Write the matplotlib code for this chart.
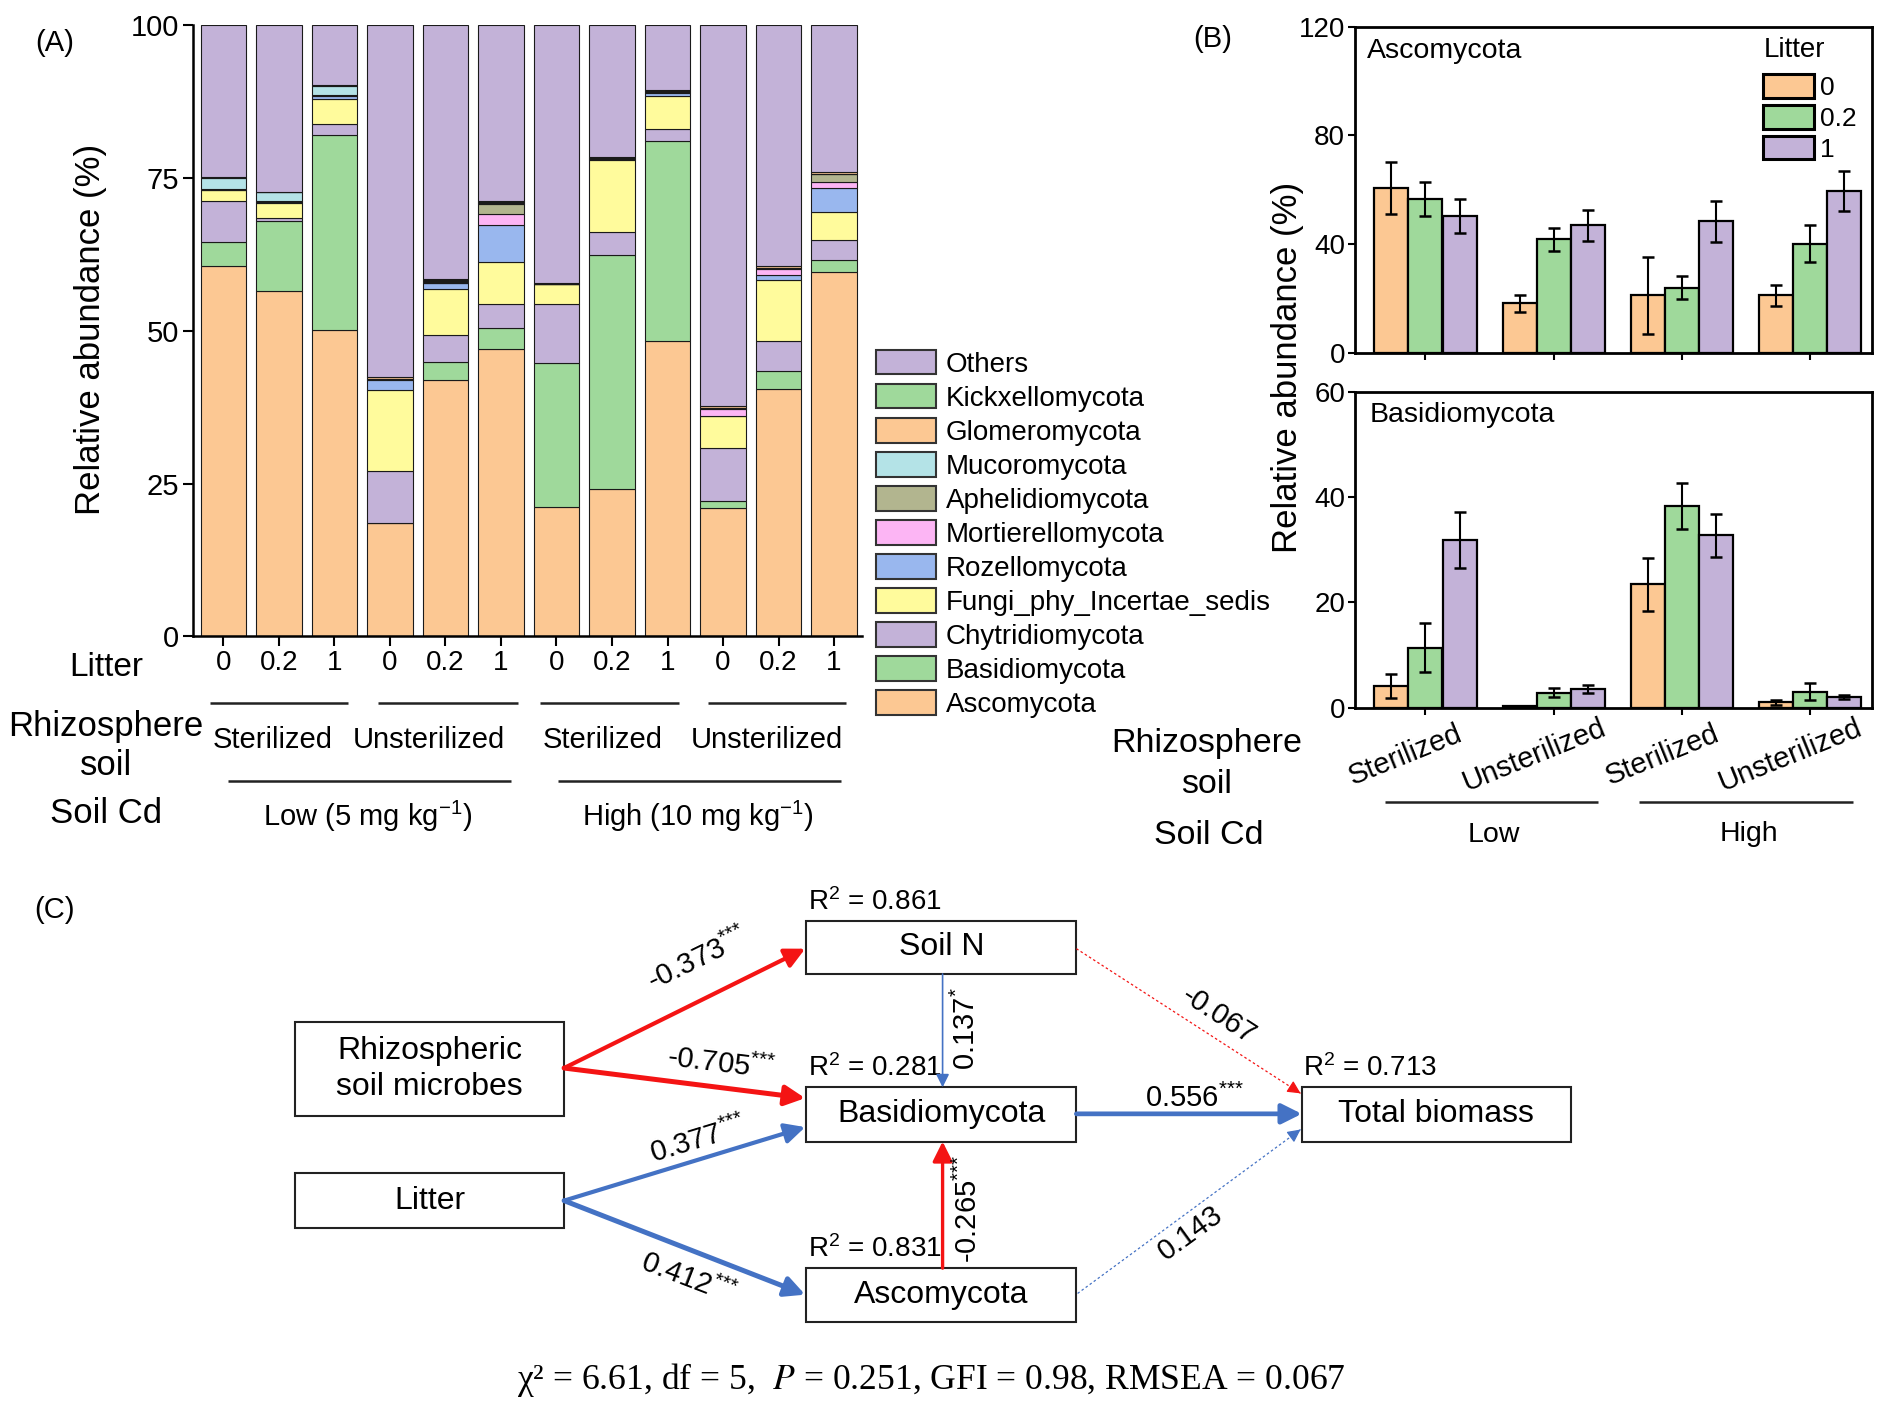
import numpy as np
import matplotlib
matplotlib.use('Agg')
import matplotlib.pyplot as plt
from matplotlib.patches import Rectangle, Patch

plt.rcParams['font.family'] = ['Liberation Sans', 'DejaVu Sans']
plt.rcParams['mathtext.fontset'] = 'custom'
plt.rcParams['mathtext.rm'] = 'Liberation Sans'
plt.rcParams['mathtext.it'] = 'Liberation Sans:italic'
plt.rcParams['mathtext.bf'] = 'Liberation Sans:bold'
plt.rcParams['axes.linewidth'] = 1.8

# ---------------- Panel A data (relative abundance, %) ----------------
litter_labels = ['0', '0.2', '1']
rhizo_groups = ['Sterilized', 'Unsterilized', 'Sterilized', 'Unsterilized']
cd_groups = ['Low (5 mg kg$^{-1}$)', 'High (10 mg kg$^{-1}$)']
taxa = ['Ascomycota', 'Basidiomycota', 'Chytridiomycota', 'Fungi_phy_Incertae_sedis',
        'Rozellomycota', 'Mortierellomycota', 'Aphelidiomycota', 'Mucoromycota',
        'Glomeromycota', 'Kickxellomycota', 'Others']
ascomycota = [60.7, 56.5, 50.2, 18.5, 41.9, 47.0, 21.2, 24.1, 48.4, 21.0, 40.5, 59.7]
basidiomycota = [3.9, 11.4, 31.8, 0.1, 3.0, 3.5, 23.6, 38.3, 32.7, 1.1, 3.0, 1.9]
chytridiomycota = [6.6, 0.6, 1.8, 8.4, 4.4, 3.9, 9.6, 3.7, 2.0, 8.8, 4.8, 3.2]
fungi_incertae = [1.8, 2.5, 4.1, 13.4, 7.5, 6.8, 3.2, 11.8, 5.4, 5.1, 10.0, 4.7]
rozellomycota = [0.1, 0.1, 0.6, 1.6, 1.0, 6.1, 0.05, 0.2, 0.5, 0.05, 0.8, 3.9]
mortierellomycota = [0.05, 0.05, 0.05, 0.05, 0.05, 1.8, 0.02, 0.02, 0.02, 1.2, 1.1, 0.9]
aphelidiomycota = [0.1, 0.1, 0.1, 0.1, 0.2, 1.7, 0.05, 0.05, 0.05, 0.1, 0.1, 1.3]
mucoromycota = [1.8, 1.4, 1.5, 0.05, 0.05, 0.05, 0.02, 0.2, 0.2, 0.02, 0.05, 0.05]
glomeromycota = [0.1, 0.1, 0.1, 0.2, 0.3, 0.3, 0.05, 0.05, 0.1, 0.3, 0.3, 0.3]
kickxellomycota = [0.05, 0.05, 0.05, 0.05, 0.1, 0.1, 0.02, 0.02, 0.02, 0.02, 0.05, 0.05]
others = [24.8, 27.2, 9.7, 57.55, 41.5, 28.75, 42.2, 21.6, 10.6, 62.3, 39.3, 24.0]

# ---------------- Panel B data (mean, SE) ----------------
b_groups = ['Sterilized', 'Unsterilized', 'Sterilized', 'Unsterilized']
b_cd = ['Low', 'High']
asco_l0 = [60.6, 18.3, 21.2, 21.2]
asco_l0_err = [9.6, 3.1, 14.0, 3.8]
asco_l02 = [56.6, 41.8, 24.0, 40.2]
asco_l02_err = [6.2, 4.1, 4.2, 6.8]
asco_l1 = [50.4, 47.0, 48.5, 59.7]
asco_l1_err = [6.2, 5.7, 7.5, 7.3]
basid_l0 = [4.1, 0.3, 23.4, 1.0]
basid_l0_err = [2.2, 0.0, 5.1, 0.5]
basid_l02 = [11.4, 2.85, 38.3, 3.0]
basid_l02_err = [4.6, 0.9, 4.4, 1.6]
basid_l1 = [31.8, 3.5, 32.7, 2.0]
basid_l1_err = [5.3, 0.7, 4.0, 0.4]

# ---------------- Panel C data (SEM) ----------------
sem_coef = [-0.373, -0.705, 0.377, 0.412, 0.137, -0.265, 0.556, -0.067, 0.143]
sem_sig = ['***', '***', '***', '***', '*', '***', '***', '', '']
sem_r2_nodes = ['Soil N', 'Basidiomycota', 'Ascomycota', 'Total biomass']
sem_r2 = [0.861, 0.281, 0.831, 0.713]
fit_text = 'χ² = 6.61, df = 5,  $P$ = 0.251, GFI = 0.98, RMSEA = 0.067'

# ---------------- styles ----------------
C_OR, C_GR, C_LI = '#FCC893', '#9FD99B', '#C3B2D8'
taxa_colors = [C_OR, C_GR, C_LI, '#FFFB9C', '#99B7EE', '#FCB5F4', '#B2B58F', '#B4E3E7',
               C_OR, C_GR, C_LI]
litter_colors = [C_OR, C_GR, C_LI]
RED, BLUE = '#F41414', '#4472C4'

W, H = 1568.0, 1173.0
fig = plt.figure(figsize=(18.9, 14.14), dpi=100)


def fr(x0, y0, x1, y1):
    return [x0 / W, 1 - y1 / H, (x1 - x0) / W, (y1 - y0) / H]


# ======================= Panel A =======================
axA = fig.add_axes(fr(160, 21, 715, 528))
xA = np.arange(len(ascomycota))
stack = [ascomycota, basidiomycota, chytridiomycota, fungi_incertae, rozellomycota,
         mortierellomycota, aphelidiomycota, mucoromycota, glomeromycota,
         kickxellomycota, others]
bottom = np.zeros(len(xA))
for name, vals, col in zip(taxa, stack, taxa_colors):
    axA.bar(xA, vals, bottom=bottom, width=0.82, color=col, edgecolor='#1a1a1a',
            linewidth=0.8, label=name)
    bottom += np.asarray(vals)
axA.set_xlim(-0.55, 11.5)
axA.set_ylim(0, 100)
axA.set_yticks([0, 25, 50, 75, 100])
axA.set_xticks(xA)
axA.set_xticklabels(litter_labels * 4)
axA.spines[['top', 'right']].set_visible(False)
axA.tick_params(axis='x', direction='out', length=7, width=1.5, labelsize=20, pad=3)
axA.tick_params(axis='y', direction='out', length=7, width=1.5, labelsize=21, pad=3)

handles = [Patch(facecolor=c, edgecolor='#333333', linewidth=1.5) for c in taxa_colors]
fig.legend(handles[::-1], taxa[::-1], loc='upper left',
           bbox_to_anchor=(727 / W, 1 - 290 / H), frameon=False, fontsize=20,
           handlelength=2.15, handleheight=1.0, labelspacing=0.22,
           handletextpad=0.35, borderpad=0, borderaxespad=0)

# ======================= Panel B =======================
axB1 = fig.add_axes(fr(1124, 22, 1553, 293))
axB2 = fig.add_axes(fr(1124, 325, 1553, 587))
gx = np.arange(4)
offs = [-0.266, 0.0, 0.266]
ekw = dict(ecolor='black', elinewidth=1.5, capsize=4, capthick=1.8)
for ax, means, errs in [(axB1, [asco_l0, asco_l02, asco_l1], [asco_l0_err, asco_l02_err, asco_l1_err]),
                        (axB2, [basid_l0, basid_l02, basid_l1], [basid_l0_err, basid_l02_err, basid_l1_err])]:
    for k in range(3):
        ax.bar(gx + offs[k], means[k], width=0.265, color=litter_colors[k],
               edgecolor='black', linewidth=1.6, yerr=errs[k], error_kw=ekw,
               label=litter_labels[k])
    ax.set_xlim(-0.55, 3.48)
    ax.set_xticks(gx)
    ax.set_xticklabels([])
    for s in ax.spines.values():
        s.set_linewidth(2.0)
    ax.tick_params(axis='x', direction='out', length=5, width=1.5)
    ax.tick_params(axis='y', direction='out', length=5, width=1.5, labelsize=20, pad=2)
axB1.set_ylim(0, 120)
axB1.set_yticks([0, 40, 80, 120])
axB2.set_ylim(0, 60)
axB2.set_yticks([0, 20, 40, 60])
legB = axB1.legend(handles=[Patch(facecolor=c, edgecolor='black', linewidth=2.2) for c in litter_colors],
                   labels=litter_labels, title='Litter', loc='upper left',
                   bbox_to_anchor=((1463 - 1124) / (1553 - 1124), (293 - 31) / (293 - 22)),
                   frameon=False, fontsize=19, title_fontsize=20, handlelength=1.9,
                   handleheight=1.0, labelspacing=0.18, handletextpad=0.25, borderpad=0,
                   borderaxespad=0, alignment='left')
legB._legend_box.sep = 8.0

# ======================= overlay for annotations =======================
ov = fig.add_axes([0, 0, 1, 1], zorder=10)
ov.set_xlim(0, W)
ov.set_ylim(H, 0)
ov.axis('off')


def T(x, y, s, size, **kw):
    kw.setdefault('ha', 'center')
    kw.setdefault('va', 'center')
    return ov.text(x, y, s, fontsize=size, **kw)


def hline(x0, x1, y, lw=1.8):
    ov.plot([x0, x1], [y, y], color='#222222', lw=lw, solid_capstyle='butt')


# Panel A labels
T(45, 36, '(A)', 21)
T(75, 273, 'Relative abundance (%)', 25, rotation=90)
T(88, 554, 'Litter', 24)
T(88, 603, 'Rhizosphere', 25)
T(88, 635, 'soil', 25)
T(88, 675, 'Soil Cd', 25)
for (a, b) in [(174, 289), (314, 430), (448, 563), (587, 702)]:
    hline(a, b, 583)
for xc, s in zip([226, 356, 500, 636], rhizo_groups):
    T(xc, 614, s, 21)
for (a, b) in [(189, 424), (463, 698)]:
    hline(a, b, 648)
for xc, s in zip([305, 579], cd_groups):
    T(xc, 677, s, 21)

# Panel B labels
T(1006, 32, '(B)', 21)
T(1068, 305, 'Relative abundance (%)', 25, rotation=90)
T(1134, 42, 'Ascomycota', 20.5, ha='left')
T(1136, 344, 'Basidiomycota', 20.5, ha='left')
for xt, s in zip([1183, 1290, 1396, 1502], b_groups):
    T(xt - 17, 626, s, 21, rotation=22, rotation_mode='anchor')
for (a, b) in [(1149, 1326), (1360, 1537)]:
    hline(a, b, 665)
T(1239, 693, b_cd[0], 20.5)
T(1451, 692, b_cd[1], 20.5)
T(1001, 617, 'Rhizosphere', 24.5)
T(1001, 651, 'soil', 24.5)
T(1003, 693, 'Soil Cd', 24.5)

# ======================= Panel C (SEM path diagram) =======================
T(45, 755, '(C)', 21)
nodes = {
    'Rhizospheric\nsoil microbes': (245, 848, 468, 926),
    'Litter': (245, 973, 468, 1019),
    'Soil N': (669, 764, 893, 808),
    'Basidiomycota': (669, 902, 893, 947),
    'Ascomycota': (669, 1052, 893, 1097),
    'Total biomass': (1080, 902, 1303, 947),
}
for name, (x0, y0, x1, y1) in nodes.items():
    ov.add_patch(Rectangle((x0, y0), x1 - x0, y1 - y0, facecolor='white',
                           edgecolor='#222222', lw=1.5))
    T((x0 + x1) / 2, (y0 + y1) / 2, name, 23, linespacing=1.25)
for name, r2 in zip(sem_r2_nodes, sem_r2):
    x0, y0, x1, y1 = nodes[name]
    T(x0 + 1, y0 - 16, 'R$^2$ = %.3f' % r2, 20, ha='left')

path_xy = [((468, 886), (668, 787)),
           ((468, 886), (668, 911)),
           ((468, 996), (668, 935)),
           ((468, 996), (668, 1074)),
           ((782, 808), (782, 902)),
           ((782, 1052), (782, 947)),
           ((893, 924), (1080, 924)),
           ((893, 787), (1079, 907)),
           ((894, 1073), (1079, 937))]
path_lw = [3.0, 3.6, 3.0, 3.6, 1.2, 2.4, 3.4, 0.9, 0.9]
label_xy = [(579, 796), (598, 883), (579, 946), (571, 1061), (802, 853),
            (803, 1003), (991, 911), (1011, 843), (988, 1023)]
label_rot = [26, -7, 17, -21, 90, 90, 0, -33, 36]

for i, (c, s) in enumerate(zip(sem_coef, sem_sig)):
    (x0, y0), (x1, y1) = path_xy[i]
    col = RED if c < 0 else BLUE
    lw = path_lw[i]
    if s:
        ms = 20 if lw > 2 else 13
        ov.annotate('', xy=(x1, y1), xytext=(x0, y0),
                    arrowprops=dict(arrowstyle='-|>,head_length=0.6,head_width=0.3',
                                    color=col, lw=lw, shrinkA=0, shrinkB=0,
                                    mutation_scale=ms))
    else:
        ov.plot([x0, x1], [y0, y1], color=col, lw=lw, ls=(0, (2, 2)))
        L = np.hypot(x1 - x0, y1 - y0)
        ux, uy = (x1 - x0) / L, (y1 - y0) / L
        ov.annotate('', xy=(x1, y1), xytext=(x1 - ux * 10, y1 - uy * 10),
                    arrowprops=dict(arrowstyle='-|>,head_length=0.6,head_width=0.3',
                                    color=col, lw=0.9, shrinkA=0, shrinkB=0,
                                    mutation_scale=13))
    stars = ''.join('{*}' for _ in s)
    lab = '%.3f' % c + ('$^{%s}$' % stars if s else '')
    T(label_xy[i][0], label_xy[i][1], lab, 21, rotation=label_rot[i],
      rotation_mode='anchor')

T(773, 1145, fit_text, 25.6, family='Liberation Serif', math_fontfamily='stix')

fig.savefig('out.png', dpi=100)
